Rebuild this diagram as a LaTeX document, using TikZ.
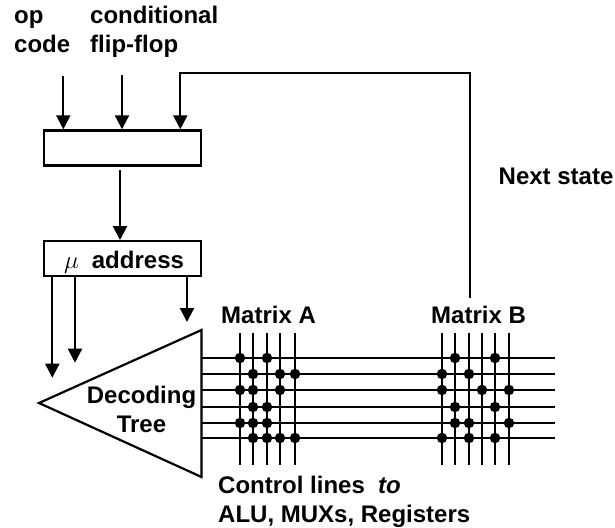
\documentclass[tikz,border=0pt]{standalone}
\usepackage{xcolor}
\usepackage{fontspec}
\setmainfont{Liberation Sans}
\usetikzlibrary{arrows.meta, calc}
\tikzset{
    wire/.style={line width=2.2pt},
    flow/.style={wire, -{Triangle[width=14pt,length=14pt]}},
    regbox/.style={draw, line width=2.2pt, minimum width=156.6pt, minimum height=35pt, inner sep=0pt, anchor=north west},
    lbl/.style={font=\bfseries\fontsize{24}{29}\selectfont, inner sep=0pt, align=left},
    tap/.style={circle, fill=black, minimum size=10.5pt, inner sep=0pt}
}

\begin{document}
\begin{tikzpicture}[x=1pt, y=-1pt]
    \useasboundingbox (0,0) rectangle (615,527);

    % input labels
    \node[lbl, anchor=base west] (oplabel) at (14,52.3) {op\\code};
    \node[lbl, anchor=base west] (condlabel) at (90,52.3) {conditional\\flip-flop};
    \node[lbl, anchor=base west] (nextlabel) at (498.5,184) {Next state};

    % registers
    \node[regbox] (selector) at (43,129.3) {};
    \node[regbox] (address) at (43,240) {};
    \node[lbl, anchor=base west] (addresstext) at (91.7,268) {address};
    \node[anchor=base west, inner sep=0pt, font=\fontsize{24}{28}\selectfont] (mulabel) at (64,268) {$\mu$};

    % decoding tree
    \coordinate (treetip) at (39,403);
    \coordinate (treetop) at (201.5,330);
    \coordinate (treebot) at (201.5,477);
    \draw[wire, line join=miter] (treetip) -- (treetop) -- (treebot) -- cycle;
    \node[lbl, align=center, anchor=base] (treetext) at (141.5,432) {Decoding\\Tree};

    % inputs
    \coordinate (opstart) at (63.3,76);
    \coordinate (condstart) at (122,75);
    \coordinate (nextstart) at (470,298);
    \coordinate (selstart) at (120,170);
    \draw[flow] (opstart) -- (opstart |- selector.north);
    \draw[flow] (condstart) -- (condstart |- selector.north);
    \draw[flow] (selstart) -- (selstart |- address.north);
    \draw[flow] (nextstart) -- (470,72.7) -- (180.3,72.7) -- (180.3,129.3);

    % address outputs
    \coordinate (outa) at (52.3,377.7);
    \coordinate (outb) at (75,362.7);
    \coordinate (outc) at (187,322);
    \draw[flow] (outa |- address.south) -- (outa);
    \draw[flow] (outb |- address.south) -- (outb);
    \draw[flow] (outc |- address.south) -- (outc);

    % control lines
    \foreach \row/\ypos in {1/358, 2/374, 3/390, 4/407, 5/423, 6/438} {
        \coordinate (rowl\row) at (201.5,\ypos);
        \coordinate (rowr\row) at (555,\ypos);
        \draw[wire] (rowl\row) -- (rowr\row);
    }

    % matrix columns
    \foreach \col/\xpos in {1/240, 2/253, 3/267, 4/280, 5/295, 6/442, 7/455, 8/469, 9/482, 10/495, 11/509} {
        \coordinate (colt\col) at (\xpos,333);
        \coordinate (colb\col) at (\xpos,465);
        \draw[wire] (colt\col) -- (colb\col);
    }

    % taps, as column-row
    \foreach \col/\row in {1/1, 3/1, 2/2, 4/2, 5/2, 1/3, 2/3, 4/3, 2/4, 3/4, 1/5, 2/5, 3/5, 2/6, 3/6, 4/6, 5/6,
                           7/1, 10/1, 6/2, 8/2, 6/3, 9/3, 11/3, 7/4, 10/4, 7/5, 8/5, 11/5, 6/6, 8/6, 10/6} {
        \node[tap] (tap\col-\row) at (colt\col |- rowl\row) {};
    }

    % matrix labels
    \node[lbl, anchor=base west] (matrixa) at (221,323.3) {Matrix A};
    \node[lbl, anchor=base west] (matrixb) at (431,323.3) {Matrix B};
    \node[lbl, anchor=base west] (ctrllabel) at (218,522) {Control lines~~\textit{to}\\ALU, MUXs, Registers};
\end{tikzpicture}
\end{document}
